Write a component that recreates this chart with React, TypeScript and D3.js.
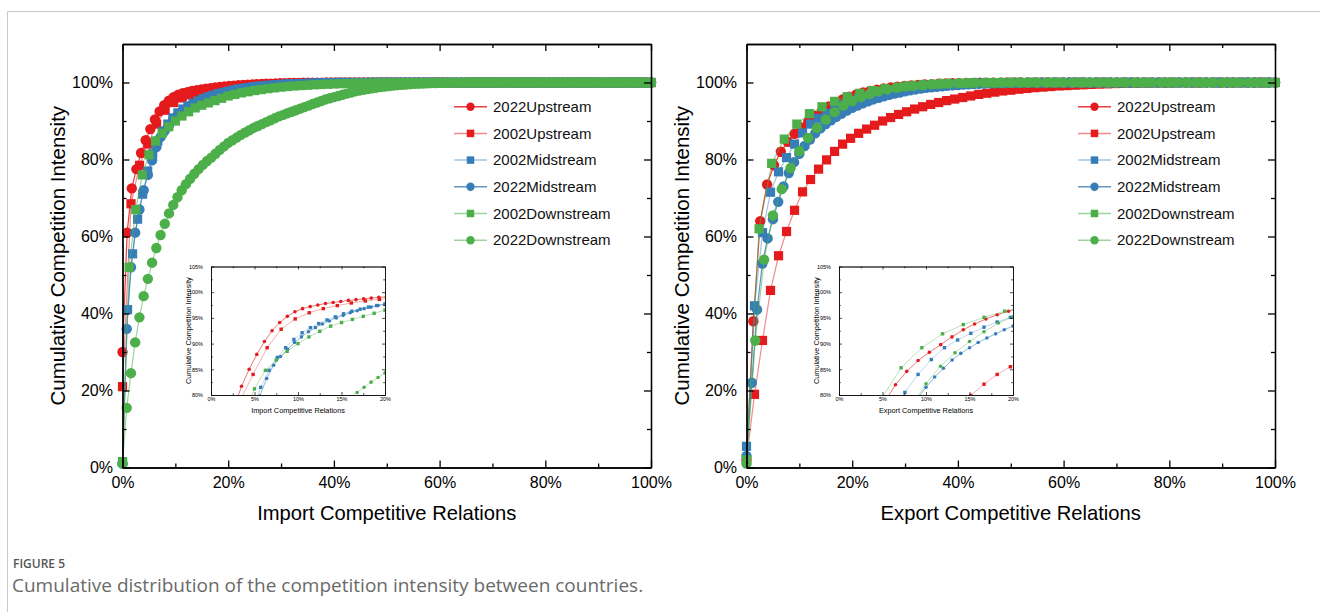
import React, { useRef, useEffect } from 'react';
import * as d3 from 'd3';

// cumulative competition intensity (%), points evenly spaced along x from 0% to 100% of relations
const importUp2022 = [
  30, 61, 72.5, 77.5, 81.7, 85, 87.9, 90.4, 92.5, 94.1,
  95.3, 96.2, 96.8, 97.2, 97.5, 97.8, 98, 98.2, 98.4, 98.55,
  98.7, 98.85, 99, 99.1, 99.2, 99.28, 99.36, 99.43, 99.5, 99.56,
  99.62, 99.67, 99.72, 99.76, 99.8, 99.83, 99.86, 99.89, 99.91, 99.93,
  99.95, 99.96, 99.97, 99.98, 99.99,
  100, 100, 100, 100, 100, 100, 100, 100, 100, 100,
  100, 100, 100, 100, 100, 100, 100, 100, 100, 100,
  100, 100, 100, 100, 100, 100, 100, 100, 100, 100,
  100, 100, 100, 100, 100, 100, 100, 100, 100, 100,
  100, 100, 100, 100, 100, 100, 100, 100, 100, 100,
  100, 100, 100, 100, 100, 100, 100, 100, 100, 100,
  100, 100, 100, 100, 100, 100, 100, 100, 100, 100,
];
const importUp2002 = [
  21, 68.5, 78.5, 84, 89.2, 92.8, 94.8, 96, 96.8, 97.4,
  97.9, 98.3, 98.6, 98.9, 99.1, 99.28, 99.43, 99.56, 99.66, 99.75,
  99.82, 99.87, 99.91, 99.94, 99.96, 99.98, 99.99,
  100, 100, 100, 100, 100, 100, 100, 100, 100, 100,
  100, 100, 100, 100, 100, 100, 100, 100, 100, 100,
  100, 100, 100, 100, 100, 100, 100, 100, 100, 100,
  100, 100, 100, 100, 100, 100,
];
const importMid2002 = [
  1.5, 41, 55.5, 64.5, 71, 77, 81.5, 84.8, 87.3, 89.2,
  90.8, 92.1, 93.1, 93.9, 94.6, 95.2, 95.8, 96.3, 96.7, 97.1,
  97.4, 97.7, 98, 98.25, 98.45, 98.65, 98.82, 98.98, 99.1, 99.22,
  99.32, 99.41, 99.49, 99.56, 99.62, 99.67, 99.72, 99.76, 99.8, 99.83,
  99.86, 99.88, 99.9, 99.92, 99.94, 99.95, 99.96, 99.97, 99.98, 99.99,
  100, 100, 100, 100, 100, 100, 100, 100, 100, 100,
  100, 100, 100, 100, 100, 100, 100, 100, 100, 100,
  100, 100, 100, 100, 100, 100, 100, 100, 100, 100,
  100, 100, 100, 100, 100, 100, 100, 100, 100, 100,
  100, 100, 100, 100, 100, 100, 100, 100, 100, 100,
  100, 100, 100, 100, 100, 100,
];
const importMid2022 = [
  1, 36, 52, 61, 67, 72, 76, 79.8, 83.2, 85.8,
  87.5, 88.9, 90.2, 91.3, 92.3, 93.1, 93.8, 94.4, 95, 95.5,
  96, 96.4, 96.8, 97.1, 97.4, 97.7, 97.95, 98.17, 98.37, 98.55,
  98.7, 98.83, 98.95, 99.06, 99.16, 99.25, 99.33, 99.4, 99.47, 99.53,
  99.58, 99.63, 99.67, 99.71, 99.75, 99.78, 99.81, 99.84, 99.86, 99.88,
  99.9, 99.92, 99.93, 99.94, 99.95, 99.96, 99.97, 99.98, 99.98, 99.99,
  99.99,
  100, 100, 100, 100, 100, 100, 100, 100, 100, 100,
  100, 100, 100, 100, 100, 100, 100, 100, 100, 100,
  100, 100, 100, 100, 100, 100, 100, 100, 100, 100,
  100, 100, 100, 100, 100, 100, 100, 100, 100, 100,
  100, 100, 100, 100, 100, 100, 100, 100, 100, 100,
  100, 100, 100, 100, 100, 100, 100, 100, 100, 100,
  100, 100, 100, 100, 100,
];
const importDown2002 = [
  1.5, 52, 67, 76, 81.2, 84.8, 86.8, 88.5, 90, 91.3,
  92.4, 93.4, 94.1, 94.7, 95.3, 95.9, 96.5, 96.9, 97.3, 97.6,
  97.9, 98.15, 98.4, 98.6, 98.8, 98.95, 99.1, 99.2, 99.3, 99.4,
  99.48, 99.55, 99.62, 99.68, 99.73, 99.78, 99.82, 99.85, 99.88, 99.9,
  99.92, 99.94, 99.95, 99.96, 99.97, 99.98, 99.99, 99.99,
  100, 100, 100, 100, 100, 100, 100, 100, 100, 100,
  100, 100, 100, 100, 100, 100, 100, 100, 100, 100,
  100, 100, 100, 100, 100, 100, 100, 100, 100, 100,
  100, 100, 100,
];
const importDown2022 = [
  1, 15.5, 24.5, 32.5, 39, 44.5, 49, 53.2, 57, 60.4,
  63.3, 66, 68.2, 70.2, 72, 73.6, 75, 76.3, 77.5, 78.6,
  79.6, 80.5, 81.5, 82.5, 83.4, 84.3, 85, 85.7, 86.4, 87,
  87.6, 88.2, 88.7, 89.2, 89.7, 90.2, 90.7, 91.2, 91.6, 92,
  92.4, 92.8, 93.2, 93.6, 94, 94.4, 94.8, 95.2, 95.6, 95.9,
  96.2, 96.5, 96.8, 97.1, 97.4, 97.7, 97.9, 98.1, 98.3, 98.5,
  98.65, 98.8, 98.95, 99.08, 99.2, 99.3, 99.4, 99.48, 99.56, 99.63,
  99.69, 99.74, 99.79, 99.83, 99.87, 99.9, 99.92, 99.94, 99.96, 99.97,
  99.98, 99.99, 99.99,
  100, 100, 100, 100, 100, 100, 100, 100, 100, 100,
  100, 100, 100, 100, 100, 100, 100, 100, 100, 100,
  100, 100, 100, 100, 100, 100, 100, 100, 100, 100,
  100, 100, 100, 100, 100, 100, 100, 100, 100, 100,
  100, 100, 100,
];

const exportUp2022 = [
  2, 38, 64, 73.5, 78.5, 82, 84.6, 86.7, 88.3, 89.8,
  91.3, 92.7, 93.8, 94.8, 95.6, 96.3, 96.9, 97.4, 97.8, 98.15,
  98.45, 98.7, 98.9, 99.08, 99.24, 99.37, 99.48, 99.58, 99.66, 99.73,
  99.79, 99.84, 99.88, 99.91, 99.94, 99.96, 99.97, 99.98, 99.99,
  100, 100, 100, 100, 100, 100, 100, 100, 100, 100,
  100, 100, 100, 100, 100, 100, 100, 100, 100, 100,
  100, 100, 100, 100, 100, 100, 100, 100, 100, 100,
  100, 100, 100, 100, 100, 100, 100, 100, 100,
];
const exportUp2002 = [
  2, 19, 33, 46, 55, 61.3, 66.8, 71.6, 74.8, 77.5,
  79.9, 82.1, 84, 85.5, 86.8, 87.9, 88.9, 90, 90.9, 91.7,
  92.4, 93.1, 93.7, 94.3, 94.8, 95.3, 95.7, 96.1, 96.5, 96.9,
  97.2, 97.5, 97.8, 98, 98.25, 98.45, 98.65, 98.8, 98.95, 99.1,
  99.2, 99.3, 99.4, 99.5, 99.58, 99.65, 99.72, 99.78, 99.83, 99.87,
  99.9, 99.93, 99.95, 99.97, 99.98, 99.99,
  100, 100, 100, 100, 100, 100, 100, 100, 100, 100,
  100,
];
const exportMid2002 = [
  5.5, 42, 61, 71.5, 76.8, 80.5, 84, 86.9, 89.2, 90.7,
  92, 93.2, 94.2, 95.1, 95.9, 96.5, 97.1, 97.6, 98, 98.35,
  98.65, 98.9, 99.1, 99.28, 99.43, 99.55, 99.65, 99.73, 99.8, 99.85,
  99.89, 99.92, 99.95, 99.97, 99.98, 99.99,
  100, 100, 100, 100, 100, 100, 100, 100, 100, 100,
  100, 100, 100, 100, 100, 100, 100, 100, 100, 100,
  100, 100, 100, 100, 100, 100, 100, 100, 100, 100,
  100,
];
const exportMid2022 = [
  3, 22, 41, 53, 59.5, 64.5, 69, 73, 76.5, 79.3,
  81.5, 83.5, 85.2, 86.8, 88.1, 89.2, 90.2, 91.1, 91.9, 92.7,
  93.4, 94, 94.6, 95.1, 95.6, 96, 96.4, 96.8, 97.1, 97.4,
  97.7, 97.95, 98.2, 98.4, 98.6, 98.75, 98.9, 99.03, 99.15, 99.26,
  99.36, 99.45, 99.53, 99.6, 99.66, 99.71, 99.76, 99.8, 99.84, 99.87,
  99.9, 99.92, 99.94, 99.95, 99.96, 99.97, 99.98, 99.99, 99.99,
  100, 100, 100, 100, 100, 100, 100, 100, 100, 100,
  100, 100, 100, 100, 100, 100, 100, 100, 100, 100,
  100, 100, 100, 100, 100, 100, 100, 100, 100, 100,
  100, 100, 100, 100, 100, 100, 100, 100, 100, 100,
  100, 100,
];
const exportDown2002 = [
  2, 62, 79, 85.3, 89.2, 91.9, 93.7, 95.1, 96.3, 97.2,
  97.9, 98.4, 98.8, 99.1, 99.35, 99.55, 99.7, 99.8, 99.87, 99.92,
  99.95, 99.97, 99.99,
  100, 100, 100, 100, 100, 100, 100, 100, 100, 100,
  100, 100, 100, 100, 100, 100, 100, 100, 100, 100,
];
const exportDown2022 = [
  1, 33, 54, 65.5, 72.3, 77.8, 82.2, 85.6, 88.2, 90.4,
  92.3, 94, 95.2, 96.2, 97, 97.7, 98.2, 98.6, 98.95, 99.2,
  99.4, 99.55, 99.68, 99.78, 99.85, 99.9, 99.94, 99.96, 99.98, 99.99,
  100, 100, 100, 100, 100, 100, 100, 100, 100, 100,
  100, 100, 100, 100, 100, 100, 100, 100, 100, 100,
  100, 100, 100, 100, 100, 100, 100, 100, 100, 100,
  100,
];

const seriesNames = ['2022Upstream', '2002Upstream', '2002Midstream', '2022Midstream', '2002Downstream', '2022Downstream'];
const seriesColors = ['#e41a1c', '#e41a1c', '#377eb8', '#377eb8', '#4daf4a', '#4daf4a'];
const seriesShapes = ['circle', 'square', 'square', 'circle', 'square', 'circle'];
const lineOpacity = [0.85, 0.5, 0.45, 0.8, 0.55, 0.55];

const importSeries = [importUp2022, importUp2002, importMid2002, importMid2022, importDown2002, importDown2022];
const exportSeries = [exportUp2022, exportUp2002, exportMid2002, exportMid2022, exportDown2002, exportDown2022];

const mainTicks = [0, 0.2, 0.4, 0.6, 0.8, 1];
const mainMinor = [0.1, 0.3, 0.5, 0.7, 0.9];
const insetXTicks = [0, 0.05, 0.1, 0.15, 0.2];
const insetXMinor = [0.025, 0.075, 0.125, 0.175];
const insetYTicks = [0.8, 0.85, 0.9, 0.95, 1, 1.05];
const insetYMinor = [0.825, 0.875, 0.925, 0.975, 1.025];

const W = 1320;
const H = 612;
const FONT = 'Arial, "Liberation Sans", Helvetica, sans-serif';
const CAPTION_FONT = '"Open Sans", "Noto Sans", sans-serif';
const pct = d3.format('.0%');

// box with inward ticks on all four sides
function drawFrame(g, x, y, xt, xm, yt, ym, o) {
  const [x0, x1] = x.range();
  const [y0, y1] = y.range();
  const blank = () => '';
  const add = (axis, tx, ty, vals, size, labels, pad) => {
    const a = g.append('g').attr('transform', `translate(${tx},${ty})`)
      .call(axis.tickValues(vals).tickSize(-size).tickSizeOuter(0).tickPadding(pad || 3).tickFormat(labels ? pct : blank));
    a.attr('font-size', o.fs).attr('font-family', FONT);
    a.select('.domain').attr('stroke', '#000').attr('stroke-width', o.sw);
    a.selectAll('.tick line').attr('stroke', '#000').attr('stroke-width', o.sw);
    a.selectAll('.tick text').attr('fill', '#000');
  };
  add(d3.axisBottom(x), 0, y0, xt, o.major, true, o.padX);
  add(d3.axisBottom(x), 0, y0, xm, o.minor, false);
  add(d3.axisTop(x), 0, y1, xt, o.major, false);
  add(d3.axisTop(x), 0, y1, xm, o.minor, false);
  add(d3.axisLeft(y), x0, 0, yt, o.major, true, o.padY);
  add(d3.axisLeft(y), x0, 0, ym, o.minor, false);
  add(d3.axisRight(y), x1, 0, yt, o.major, false);
  add(d3.axisRight(y), x1, 0, ym, o.minor, false);
}

function drawMarker(sel, shape, r, s) {
  if (shape === 'circle') {
    sel.append('circle').attr('r', r);
  } else {
    sel.append('rect').attr('x', -s / 2).attr('y', -s / 2).attr('width', s).attr('height', s);
  }
}

function drawSeries(g, series, x, y, o) {
  series.forEach((vals, si) => {
    const n = vals.length;
    const pts = vals.map((v, i) => [i / (n - 1), v / 100]);
    const line = d3.line().x(d => x(d[0])).y(d => y(d[1]));
    g.append('path')
      .attr('d', line(pts))
      .attr('fill', 'none')
      .attr('stroke', seriesColors[si])
      .attr('stroke-opacity', lineOpacity[si])
      .attr('stroke-width', o.lw);
    const m = g.append('g').attr('fill', seriesColors[si]);
    m.selectAll('g')
      .data(pts)
      .join('g')
      .attr('transform', d => `translate(${x(d[0])},${y(d[1])})`)
      .each(function () {
        drawMarker(d3.select(this), seriesShapes[si], o.r, o.s);
      });
  });
}

function drawPanel(svg, series, xTitle, plotL, insetL, id) {
  const plotR = plotL + 528.5;
  const plotT = 44;
  const plotB = 467.5;
  const x = d3.scaleLinear().domain([0, 1]).range([plotL, plotR]);
  const y = d3.scaleLinear().domain([0, 1.1]).range([plotB, plotT]);
  const g = svg.append('g');

  drawSeries(g, series, x, y, { r: 5.2, s: 9.2, lw: 1.2 });
  drawFrame(g, x, y, mainTicks, mainMinor, mainTicks, mainMinor,
    { major: 7, minor: 4, padX: 9, padY: 9.5, fs: 16, sw: 1.3 });

  g.append('text')
    .attr('transform', `translate(${plotL - 64.5},${(plotT + plotB) / 2}) rotate(-90)`)
    .attr('text-anchor', 'middle').attr('dy', '0.35em')
    .attr('font-family', FONT).attr('font-size', 20.5)
    .text('Cumulative Competition Intensity');
  g.append('text')
    .attr('x', (plotL + plotR) / 2).attr('y', 520)
    .attr('text-anchor', 'middle')
    .attr('font-family', FONT).attr('font-size', 20.2)
    .text(xTitle);

  // legend
  const lg = g.append('g').attr('transform', `translate(${plotL + 331.5},106.7)`);
  seriesNames.forEach((name, i) => {
    const row = lg.append('g').attr('transform', `translate(0,${i * 26.7})`);
    row.append('line').attr('x1', 0).attr('x2', 33)
      .attr('stroke', seriesColors[i]).attr('stroke-opacity', lineOpacity[i]).attr('stroke-width', 1.5);
    const mk = row.append('g').attr('transform', 'translate(16.5,0)').attr('fill', seriesColors[i]);
    drawMarker(mk, seriesShapes[i], 4.2, 7.5);
    row.append('text').attr('x', 39).attr('dy', '0.35em')
      .attr('font-family', FONT).attr('font-size', 15).attr('fill', '#111')
      .text(name);
  });

  // inset: zoom of 0-20% / 80-105%
  const ix = d3.scaleLinear().domain([0, 0.2]).range([insetL, insetL + 174]);
  const iy = d3.scaleLinear().domain([0.8, 1.05]).range([395, 266.5]);
  const ig = g.append('g');
  ig.append('rect').attr('x', insetL).attr('y', 266.5).attr('width', 174).attr('height', 128.5).attr('fill', '#fff');
  ig.append('clipPath').attr('id', `clip-${id}`)
    .append('rect').attr('x', insetL).attr('y', 266.5).attr('width', 174).attr('height', 128.5);
  const inner = ig.append('g').attr('clip-path', `url(#clip-${id})`);
  drawSeries(inner, series, ix, iy, { r: 1.8, s: 3.4, lw: 0.7 });
  drawFrame(ig, ix, iy, insetXTicks, insetXMinor, insetYTicks, insetYMinor,
    { major: 3, minor: 1.8, padX: 2.5, padY: 8, fs: 5.5, sw: 0.7 });
  ig.append('text')
    .attr('transform', `translate(${insetL - 23},${(266.5 + 395) / 2}) rotate(-90)`)
    .attr('text-anchor', 'middle').attr('dy', '0.35em')
    .attr('font-family', FONT).attr('font-size', 7.3)
    .text('Cumulative Competition Intensity');
  ig.append('text')
    .attr('x', insetL + 87).attr('y', 413)
    .attr('text-anchor', 'middle')
    .attr('font-family', FONT).attr('font-size', 7.3)
    .text(xTitle);
}

const App = () => {
  const svgRef = useRef(null);

  useEffect(() => {
    const svg = d3.select(svgRef.current);
    svg.selectAll('*').remove();
    svg.attr('width', W).attr('height', H);

    svg.append('rect').attr('width', W).attr('height', H).attr('fill', '#fff');
    // figure frame (top and left edges visible)
    svg.append('path').attr('d', `M7.5,${H}V11.5H${W}`)
      .attr('fill', 'none').attr('stroke', '#c8c8c8').attr('stroke-width', 1);

    drawPanel(svg, importSeries, 'Import Competitive Relations', 122.5, 211, 'imp');
    drawPanel(svg, exportSeries, 'Export Competitive Relations', 746.5, 839, 'exp');

    svg.append('text').attr('x', 13).attr('y', 567.5)
      .attr('font-family', CAPTION_FONT).attr('font-size', 12)
      .attr('font-weight', 600).attr('fill', '#555')
      .text('FIGURE 5');
    svg.append('text').attr('x', 12).attr('y', 592)
      .attr('font-family', CAPTION_FONT).attr('font-size', 19)
      .attr('fill', '#6a6a6a')
      .text('Cumulative distribution of the competition intensity between countries.');
  }, []);

  return <svg ref={svgRef} style={{ position: 'absolute', left: 0, top: 0 }}></svg>;
};

export default App;
